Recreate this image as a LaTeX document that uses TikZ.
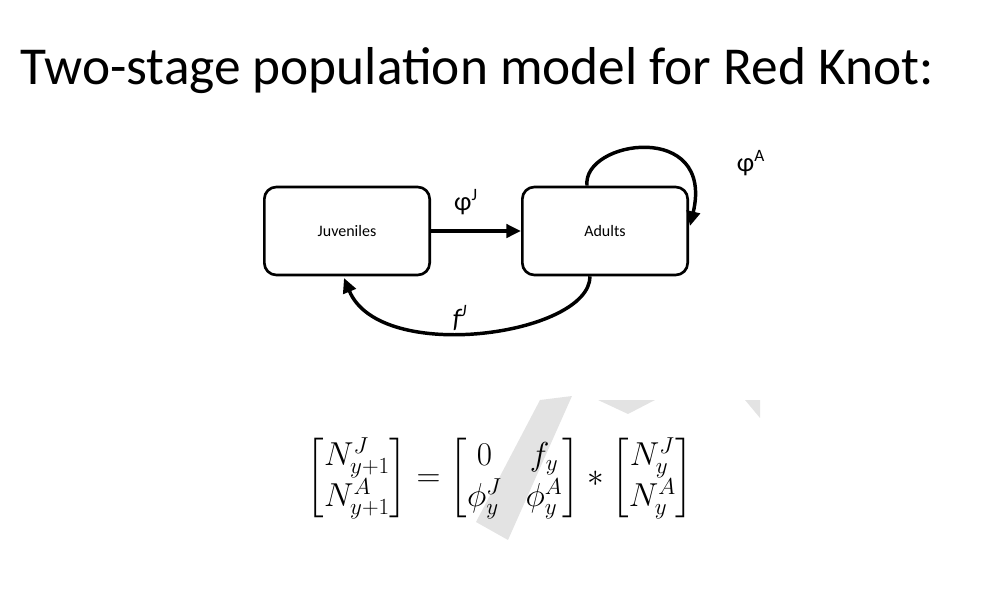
\documentclass[tikz,border=0pt]{standalone}
\usepackage{amsmath}
\usepackage{fontspec}
\newfontfamily\carl{Carlito}
\usetikzlibrary{arrows.meta}
\begin{document}
\begin{tikzpicture}[x=0.75pt,y=-0.75pt,
  box/.style={draw,line width=2pt,rounded corners=9pt,minimum width=124pt,minimum height=66pt,font=\carl\fontsize{12}{14}\selectfont},
  conn/.style={line width=2.6pt,-{Triangle[length=11pt,width=10pt]}},
  lab/.style={font=\carl\fontsize{20}{24}\selectfont}]
\useasboundingbox (0,0) rectangle (997,600);
\fill[gray!22] (540,400) -- (572,396) -- (508,540) -- (476,522) -- cycle;
\fill[gray!22] (598,400) -- (655,400) -- (628,414) -- cycle;
\fill[gray!22] (745,400) -- (760,400) -- (760,418) -- cycle;
\node[anchor=base west,font=\carl\fontsize{40}{46}\selectfont] (title) at (16,84) {Two-stage population model for Red Knot:};
\node[box] (juv) at (347,231) {Juveniles};
\node[box] (adu) at (605,231) {Adults};
\draw[conn] (juv.east) -- (adu.west);
\node[lab] (phiJ) at (466,202) {φ\textsuperscript{\fontsize{13}{14}\selectfont J}};
\draw[conn] (adu.north) ++(-18,0) coordinate (s1) .. controls (582,140) and (715,120) .. (690,226);
\node[lab] (phiA) at (751,163) {φ\textsuperscript{\fontsize{13}{14}\selectfont A}};
\draw[conn] (adu.south) ++(-15,0) .. controls (590,335) and (380,365) .. (344,278);
\node[lab] (fJ) at (460,318) {\itshape f\textsuperscript{\fontsize{13}{14}\selectfont J}};
\node (eq) at (500,478) {\fontsize{27}{32}\selectfont\setlength{\arraycolsep}{9pt}\renewcommand{\arraystretch}{0.95}$\begin{bmatrix}N^J_{y+1}\\ N^A_{y+1}\end{bmatrix}=\begin{bmatrix}0 & f_y\\ \phi^J_y & \phi^A_y\end{bmatrix}*\begin{bmatrix}N^J_{y}\\ N^A_{y}\end{bmatrix}$};
\end{tikzpicture}
\end{document}
